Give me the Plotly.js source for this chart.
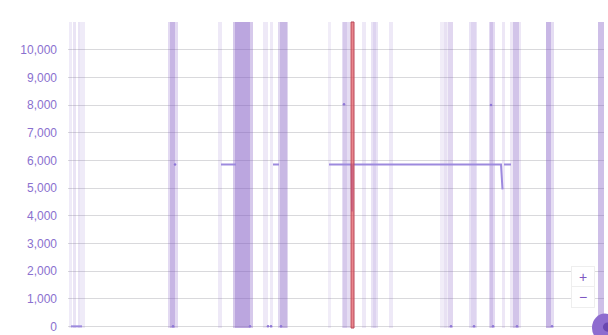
<!DOCTYPE html>
<html>
<head>
<meta charset="utf-8">
<script src="https://cdn.plot.ly/plotly-3.0.1.min.js"></script>
<style>html,body{margin:0;padding:0;background:#fff;}#chart{width:608px;height:335px;}</style>
</head>
<body>
<div id="chart"></div>
<script>
// ---- data ----
// Event bands (x units), with intensity
var bandStart = [1, 5, 10, 12, 100, 102, 150, 165, 167, 195, 202, 210, 212, 260, 274, 275, 294, 303, 305, 321, 372, 376, 380, 401, 403, 421, 422, 434, 442, 445, 478, 478, 530];
var bandEnd   = [4, 8, 12, 17, 110, 107, 154, 185, 182, 200, 205, 220, 219, 263, 282, 279, 298, 310, 308, 325, 385, 379, 385, 409, 408, 427, 425, 437, 453, 451, 486, 483, 536];
var bandAlpha = [0.12, 0.16, 0.16, 0.12, 0.22, 0.28, 0.13, 0.32, 0.3, 0.13, 0.13, 0.24, 0.24, 0.11, 0.2, 0.15, 0.13, 0.17, 0.1, 0.13, 0.11, 0.08, 0.14, 0.17, 0.1, 0.22, 0.18, 0.14, 0.14, 0.24, 0.2, 0.28, 0.38];

// Main series (null = gap)
var lineX = [3, 8, 14, 15, 153, 168, 169, 205, 211, 212, 261, 283.5, 284, 284.5, 433, 434.5, 435, 436, 443];
var lineY = [0, 0, 0, null, 5850, 5850, null, 5850, 5850, null, 5850, 5850, 4150, 5850, 5850, 4950, null, 5850, 5850];

// Isolated readings
var pointX = [105, 107, 182, 200, 203, 213, 276, 383, 406, 423, 425, 449, 484];
var pointY = [0, 5850, 0, 0, 0, 0, 8030, 0, 0, 8000, 0, 0, 0];

// Highlighted (selected) event
var highlightStart = 283;
var highlightEnd = 286;

var yTicks = [0, 1000, 2000, 3000, 4000, 5000, 6000, 7000, 8000, 9000, 10000];

// ---- build ----
var purple = [126, 87, 194];
var bandX = [], bandW = [], bandC = [], bandH = [];
for (var i = 0; i < bandStart.length; i++) {
  bandX.push((bandStart[i] + bandEnd[i]) / 2);
  bandW.push(bandEnd[i] - bandStart[i]);
  bandH.push(11400);
  bandC.push('rgba(' + purple.join(',') + ',' + bandAlpha[i] + ')');
}

var traces = [
  {
    type: 'bar', x: bandX, y: bandH, width: bandW, base: -200,
    marker: {color: bandC, line: {width: 0}},
    hoverinfo: 'skip', showlegend: false
  },
  {
    type: 'scatter', mode: 'lines', x: lineX, y: lineY,
    line: {color: '#9d8ade', width: 2}, connectgaps: false,
    showlegend: false, hoverinfo: 'skip'
  },
  {
    type: 'scatter', mode: 'markers', x: pointX, y: pointY,
    marker: {color: '#8f78d6', size: 2.5}, showlegend: false, hoverinfo: 'skip'
  }
];

var layout = {
  width: 608, height: 335,
  margin: {l: 68, r: 4, t: 22, b: 7},
  paper_bgcolor: '#ffffff', plot_bgcolor: '#ffffff',
  barmode: 'overlay', bargap: 0,
  showlegend: false,
  xaxis: {range: [0, 536], showticklabels: false, showgrid: false, zeroline: false, showline: false, ticks: ''},
  yaxis: {
    range: [-60, 11000], tickvals: yTicks, tickformat: ',d',
    showgrid: true, gridcolor: '#d9d9dc', gridwidth: 1, zeroline: false, showline: false,
    ticks: '', ticklabelstandoff: 10,
    tickfont: {family: 'Liberation Sans, Arial, sans-serif', size: 12, color: '#8a70cf'}
  },
  shapes: [
    {type: 'rect', xref: 'x', yref: 'paper', x0: highlightStart, x1: highlightEnd, y0: 0, y1: 1,
     fillcolor: 'rgba(226,88,96,0.72)', line: {color: '#b8485a', width: 1}, layer: 'above'},
    {type: 'circle', xref: 'paper', yref: 'paper', x0: 0.9776, x1: 1.026, y0: -0.045, y1: 0.047,
     fillcolor: '#8e6ccf', line: {width: 0}},
    {type: 'circle', xref: 'paper', yref: 'paper', x0: 0.998, x1: 1.016, y0: -0.012, y1: 0.018,
     fillcolor: '#6a47b0', line: {width: 0}}
  ],
  annotations: [
    {xref: 'paper', yref: 'paper', x: 0.961, y: 0.168, text: '+', showarrow: false,
     xanchor: 'center', yanchor: 'middle', width: 20, height: 18, bgcolor: '#ffffff',
     bordercolor: '#eeeeee', borderwidth: 1, font: {size: 14, color: '#7e57c2', family: 'Liberation Sans, Arial'}},
    {xref: 'paper', yref: 'paper', x: 0.961, y: 0.100, text: '\u2212', showarrow: false,
     xanchor: 'center', yanchor: 'middle', width: 20, height: 18, bgcolor: '#ffffff',
     bordercolor: '#eeeeee', borderwidth: 1, font: {size: 14, color: '#7e57c2', family: 'Liberation Sans, Arial'}}
  ]
};

Plotly.newPlot('chart', traces, layout, {displayModeBar: false, staticPlot: true});
</script>
</body>
</html>
